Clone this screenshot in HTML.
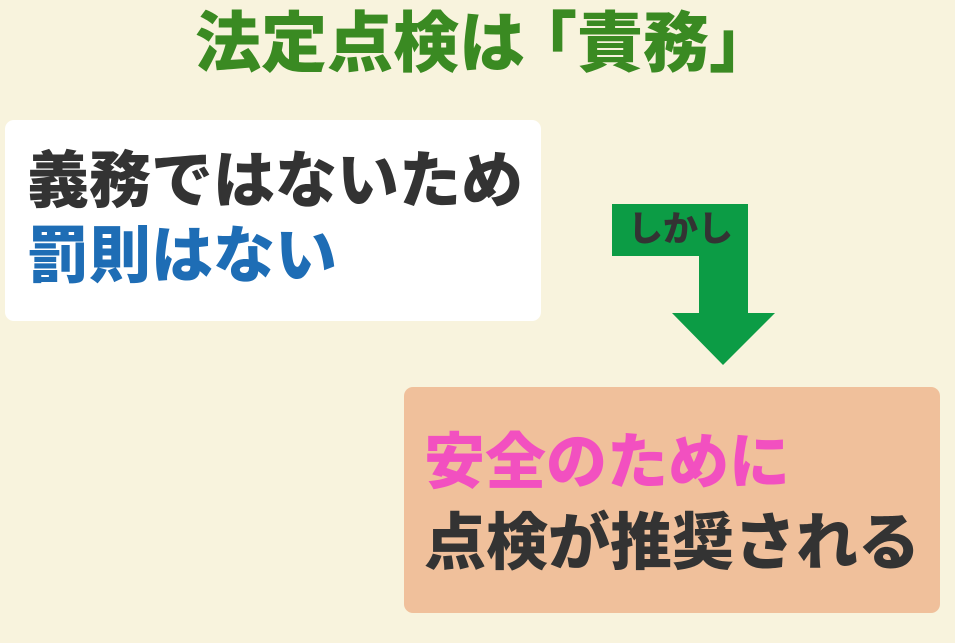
<!DOCTYPE html>
<html><head><meta charset="utf-8"><style>
body{margin:0;width:955px;height:643px;background:#f8f3dd;position:relative;overflow:hidden;font-family:"Liberation Sans","Noto Sans CJK JP",sans-serif;font-weight:900}
.t{position:absolute;white-space:nowrap;font-weight:900;line-height:1}
</style></head><body>
<div class="t" style="left:195px;top:10px;font-size:66px;color:#3a8a22;letter-spacing:0px">法定点検は<span style="margin-left:-14px">「</span>責務<span style="margin-right:-20px">」</span></div>
<div style="position:absolute;left:5px;top:120px;width:536px;height:201px;background:#fff;border-radius:9px"></div>
<div class="t" style="left:27px;top:151px;font-size:62px;color:#333">義務ではないため</div>
<div class="t" style="left:27px;top:226px;font-size:62px;color:#1e6db5">罰則はない</div>
<svg style="position:absolute;left:0;top:0" width="955" height="643">
<polygon points="612,204 748,204 748,313 775,313 723,365 672,313 699,313 699,256 612,256" fill="#0c9c45"/>
</svg>
<div class="t" style="left:628px;top:212px;font-size:35px;color:#333">しかし</div>
<div style="position:absolute;left:404px;top:387px;width:536px;height:226px;background:#f0c09b;border-radius:9px"></div>
<div class="t" style="left:424px;top:432px;font-size:61px;color:#f250c0">安全のために</div>
<div class="t" style="left:424px;top:513px;font-size:62px;color:#333">点検が推奨される</div>
</body></html>
